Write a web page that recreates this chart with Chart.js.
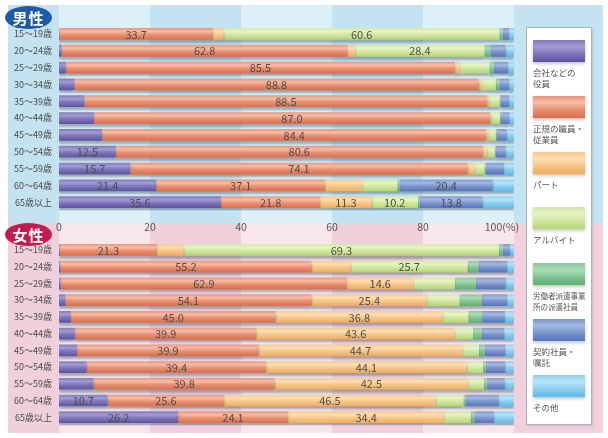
<!DOCTYPE html>
<html><head><meta charset="utf-8">
<script src="https://cdn.jsdelivr.net/npm/chart.js@4.4.1/dist/chart.umd.min.js"></script>
<style>
html,body{margin:0;padding:0;background:#fff;width:608px;height:438px;overflow:hidden;font-family:"Noto Sans CJK JP",sans-serif;}
#wrap{position:relative;width:608px;height:438px;}
#cm{position:absolute;left:0;top:0;}
#cf{position:absolute;left:0;top:223px;}
.badge{position:absolute;left:5px;width:47px;height:23px;border-radius:50%;color:#fff;font-weight:bold;font-size:15px;line-height:23px;text-align:center;letter-spacing:1px;}
#legend{position:absolute;left:526px;top:27px;width:64px;height:396px;background:#fff;border:1px solid #a9b3ba;box-shadow:1px 1px 2px rgba(0,0,0,.12);}
.sw{position:absolute;left:6px;width:52px;height:22px;box-shadow:0 2px 3px rgba(0,0,0,.22);}
.lt{position:absolute;left:6px;font-size:8.5px;line-height:11px;color:#555;white-space:nowrap;}
</style></head>
<body>
<div id="wrap">
<canvas id="cm" width="608" height="223"></canvas>
<canvas id="cf" width="608" height="215"></canvas>
<div class="badge" style="top:6px;background:#1f5ba6;">男性</div>
<div class="badge" style="top:223px;background:#c51a50;">女性</div>
<div id="legend"></div>
</div>
<script>
// ---- data ----
const ageLabels = ['15～19歳','20～24歳','25～29歳','30～34歳','35～39歳','40～44歳','45～49歳','50～54歳','55～59歳','60～64歳','65歳以上'];
const seriesNames = ['会社などの役員','正規の職員・従業員','パート','アルバイト','労働者派遣事業所の派遣社員','契約社員・嘱託','その他'];
const legendLines = [['会社などの','役員'],['正規の職員・','従業員'],['パート'],['アルバイト'],['労働者派遣事業','所の派遣社員'],['契約社員・','嘱託'],['その他']];

const maleExecutive = [0.1,0.6,1.5,3.4,5.6,7.7,9.5,12.5,15.7,21.4,35.6];
const maleRegular   = [33.7,62.8,85.5,88.8,88.5,87.0,84.4,80.6,74.1,37.1,21.8];
const malePart      = [2.4,1.7,1.1,0.7,0.5,0.4,0.6,1.0,1.6,8.1,11.3];
const maleArbeit    = [60.6,28.4,6.5,3.1,2.2,1.8,1.5,1.7,2.1,7.8,10.2];
const maleDispatch  = [0.7,1.4,1.0,0.8,0.3,0.3,0.3,0.2,0.3,0.5,0.4];
const maleContract  = [1.4,3.3,3.1,2.1,1.8,1.8,2.1,2.2,4.0,20.4,13.8];
const maleOther     = [1.1,1.8,1.3,1.1,1.1,1.0,1.6,1.8,2.2,4.7,6.9];

const femaleExecutive = [0.2,0.3,0.4,1.4,2.6,3.5,4.0,6.1,7.6,10.7,26.2];
const femaleRegular   = [21.3,55.2,62.9,54.1,45.0,39.9,39.9,39.4,39.8,25.6,24.1];
const femalePart      = [5.9,8.6,14.6,25.4,36.8,43.6,44.7,44.1,42.5,46.5,34.4];
const femaleArbeit    = [69.3,25.7,9.1,7.1,5.6,4.0,3.7,3.6,3.5,6.1,5.8];
const femaleDispatch  = [0.9,2.4,4.6,4.9,3.0,1.9,1.3,0.6,0.7,0.5,0.8];
const femaleContract  = [1.5,6.3,6.6,5.6,5.0,5.0,4.5,4.3,3.9,7.3,4.3];
const femaleOther     = [0.9,1.5,1.8,1.5,2.0,2.1,1.9,1.9,2.0,3.3,4.4];

const xTicks = [0,20,40,60,80,100];
const xTickLabels = ['0','20','40','60','80','100(%)'];
const labelThreshold = 10;

// ---- styles ----
const palette = [
  {light:'#a39cd4', mid:'#8077bd', dark:'#5c539c'},
  {light:'#f6bda7', mid:'#eb9274', dark:'#d86d4c'},
  {light:'#fcdfb4', mid:'#f7c88a', dark:'#eeab5e'},
  {light:'#e7f3c8', mid:'#d3e8a1', dark:'#b5d477'},
  {light:'#acdab6', mid:'#86c896', dark:'#5eae70'},
  {light:'#a5b8e2', mid:'#7d97d0', dark:'#5574ba'},
  {light:'#b8e3f8', mid:'#8fd0f0', dark:'#5fbae6'}
];
const FONT = '"Noto Sans CJK JP", "Noto Sans", sans-serif';

function barGradient(i){
  return (c) => {
    const p = palette[i];
    const chart = c.chart;
    const ys = chart.scales && chart.scales.y;
    if (c.type !== 'data' || !ys || !isFinite(ys.getPixelForValue(c.dataIndex))) return p.mid;
    const yc = ys.getPixelForValue(c.dataIndex);
    const g = chart.ctx.createLinearGradient(0, yc-6, 0, yc+6);
    g.addColorStop(0, p.mid);
    g.addColorStop(0.3, p.light);
    g.addColorStop(0.55, p.mid);
    g.addColorStop(1, p.dark);
    return g;
  };
}

const bgPlugin = {
  id:'bg',
  beforeDraw(chart, args, o){
    const {ctx} = chart; const x = chart.scales.x;
    ctx.save();
    ctx.fillStyle = o.dark;
    ctx.fillRect(8, o.top, 595, o.bottom - o.top);
    ctx.fillStyle = o.light;
    [[0,20],[40,60],[80,100]].forEach(([a,b])=>{
      const xa = x.getPixelForValue(a), xb = x.getPixelForValue(b);
      ctx.fillRect(xa, o.top, xb-xa, o.bottom - o.top);
    });
    ctx.restore();
  }
};
const shadowPlugin = {
  id:'shadow',
  beforeDatasetsDraw(chart){
    const ctx = chart.ctx; ctx.save();
    ctx.shadowColor = 'rgba(60,80,100,0.42)';
    ctx.shadowOffsetY = 3; ctx.shadowBlur = 2;
  },
  afterDatasetsDraw(chart){ chart.ctx.restore(); }
};
const valueLabelPlugin = {
  id:'vlabels',
  afterDraw(chart){
    const ctx = chart.ctx; ctx.save();
    ctx.font = '11px ' + FONT; ctx.fillStyle = '#4d4d4d';
    ctx.textAlign = 'center'; ctx.textBaseline = 'middle';
    chart.data.datasets.forEach((ds, di) => {
      const meta = chart.getDatasetMeta(di);
      meta.data.forEach((el, i) => {
        const v = ds.data[i];
        if (v >= labelThreshold) {
          const p = el.getCenterPoint();
          ctx.fillText(v.toFixed(1), p.x, p.y + 0.5);
        }
      });
    });
    ctx.restore();
  }
};
const xLabelPlugin = {
  id:'xlabels',
  afterDraw(chart, args, o){
    if (!o.show) return;
    const ctx = chart.ctx; const x = chart.scales.x;
    ctx.save();
    ctx.font = '10.5px ' + FONT; ctx.fillStyle = '#555';
    ctx.textBaseline = 'alphabetic';
    xTicks.forEach((v, i) => {
      const px = x.getPixelForValue(v);
      if (i === xTicks.length - 1) { ctx.textAlign = 'right'; ctx.fillText(xTickLabels[i], px + 5, 7.5); }
      else { ctx.textAlign = 'center'; ctx.fillText(xTickLabels[i], px, 7.5); }
    });
    ctx.restore();
  }
};

function makeChart(id, series, pad, bg, showX){
  const datasets = series.map((d, i) => ({
    label: seriesNames[i], data: d,
    backgroundColor: barGradient(i),
    borderWidth: 0, barPercentage: 0.7, categoryPercentage: 1.0
  }));
  return new Chart(document.getElementById(id), {
    type:'bar',
    data:{labels: ageLabels, datasets},
    options:{
      indexAxis:'y', responsive:false, animation:false, events:[],
      layout:{padding:{left:8, right:94, top:pad.top, bottom:pad.bottom}},
      scales:{
        x:{stacked:true, min:0, max:100, display:false},
        y:{stacked:true, grid:{display:false, drawTicks:false}, border:{display:false},
           ticks:{color:'#4a4a4a', font:{family:FONT, size:9}, padding:7},
           afterFit(s){ s.width = 51; }}
      },
      plugins:{legend:{display:false}, tooltip:{enabled:false}, bg, xlabels:{show:showX}}
    },
    plugins:[bgPlugin, shadowPlugin, valueLabelPlugin, xLabelPlugin]
  });
}

makeChart('cm', [maleExecutive,maleRegular,malePart,maleArbeit,maleDispatch,maleContract,maleOther],
  {top:25.5, bottom:9.8}, {top:5, bottom:223, dark:'#c3e3f1', light:'#dcf0f8'}, false);
makeChart('cf', [femaleExecutive,femaleRegular,femalePart,femaleArbeit,femaleDispatch,femaleContract,femaleOther],
  {top:18.5, bottom:9.2}, {top:0, bottom:210, dark:'#efd0dc', light:'#f8e6ec'}, true);

// ---- legend ----
const lg = document.getElementById('legend');
const swTops = [12, 68, 123.5, 179, 235, 291, 347];
legendLines.forEach((lines, i) => {
  const p = palette[i];
  const sw = document.createElement('div');
  sw.className = 'sw';
  sw.style.top = swTops[i] + 'px';
  sw.style.background = `linear-gradient(to bottom, ${p.mid} 0%, ${p.light} 30%, ${p.mid} 60%, ${p.dark} 100%)`;
  lg.appendChild(sw);
  const t = document.createElement('div');
  t.className = 'lt';
  t.style.top = (swTops[i] + 27) + 'px';
  if (i === 4) t.style.fontSize = '7.5px';
  t.innerHTML = lines.join('<br>');
  lg.appendChild(t);
});
</script>
</body></html>
